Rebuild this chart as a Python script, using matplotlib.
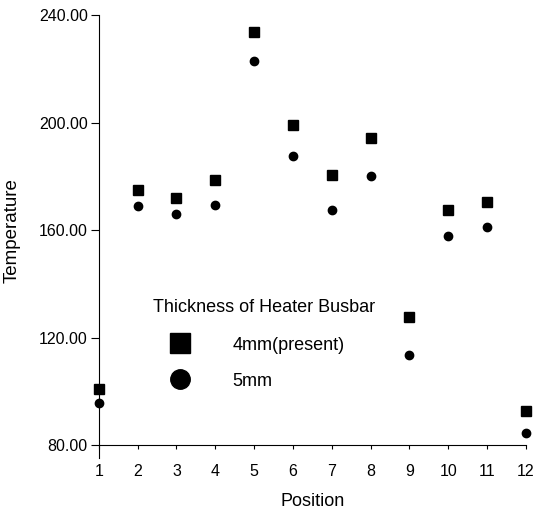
import matplotlib
matplotlib.use("Agg")
import matplotlib.pyplot as plt
from matplotlib.lines import Line2D

plt.rcParams['font.family'] = ['Liberation Sans', 'DejaVu Sans']

# Posiciones y temperaturas
position = [1, 2, 3, 4, 5, 6, 7, 8, 9, 10, 11, 12]
temp_4mm = [100.8, 174.8, 171.8, 178.5, 233.9, 199.3, 180.4, 194.1, 127.6, 167.4, 170.3, 92.6]
temp_5mm = [95.6, 168.8, 165.9, 169.2, 222.8, 187.4, 167.4, 180.0, 113.5, 157.7, 161.0, 84.5]
y_ticks = [80, 120, 160, 200, 240]

fig = plt.figure(figsize=(5.34, 5.16), dpi=100)
ax = fig.add_axes([0.185, 0.1376, 0.800, 0.833])

ax.plot(position, temp_4mm, linestyle='none', marker='s', markersize=7, color='black', clip_on=False)
ax.plot(position, temp_5mm, linestyle='none', marker='o', markersize=6, color='black', clip_on=False)

ax.set_xlim(1, 12)
ax.set_ylim(80, 240)
ax.set_xticks(position)
ax.set_yticks(y_ticks)
ax.set_yticklabels([f"{v:.2f}" for v in y_ticks])
ax.tick_params(axis='both', direction='out', width=0.8, labelsize=11.5)
ax.tick_params(axis='y', length=6, pad=2)
ax.tick_params(axis='x', length=3, pad=11)

for s in ['top', 'right']:
    ax.spines[s].set_visible(False)
# el eje vertical baja un poco por debajo del eje x
ax.spines['left'].set_bounds(75, 240)

ax.set_xlabel('Position', fontsize=13, labelpad=10)
ax.set_ylabel('Temperature', fontsize=13.5, labelpad=13)

# Leyenda
handles = [
    Line2D([], [], linestyle='none', marker='s', markersize=14, color='black', label='4mm(present)'),
    Line2D([], [], linestyle='none', marker='o', markersize=14, color='black', label='5mm'),
]
leg = ax.legend(handles=handles, title='Thickness of Heater Busbar', loc='upper left',
                bbox_to_anchor=(0.102, 0.365), frameon=False, fontsize=13,
                title_fontsize=13, handlelength=3.0, handletextpad=1.4,
                labelspacing=1.05, borderpad=0.1)
leg._legend_box.align = 'left'
leg._legend_box.sep = 15

fig.savefig('out.png', dpi=100)
